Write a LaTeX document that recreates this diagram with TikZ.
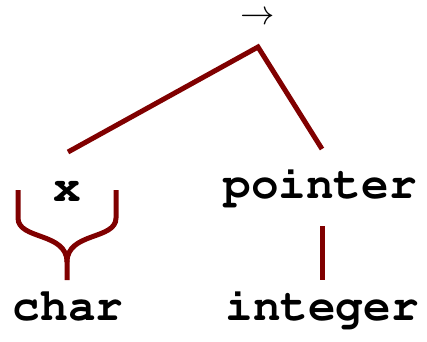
\documentclass[tikz,border=0pt]{standalone}
\usepackage[T1]{fontenc}
\begin{document}
\begin{tikzpicture}[x=1pt,y=-1pt,
  lbl/.style={font=\fontfamily{pcr}\bfseries\fontsize{46}{46}\selectfont, anchor=base, inner sep=0pt},
  edge/.style={draw={rgb,255:red,128;green,0;blue,0}, line width=5pt},
]
\useasboundingbox (0,0) rectangle (427,341);
\node[anchor=base, inner sep=0pt, font=\fontsize{24.88}{25}\selectfont] (arr) at (258,24) {\scalebox{1.38}{$\rightarrow$}};
\node[lbl] (x) at (67,201) {x};
\node[lbl] (ptr) at (320,198) {pointer};
\node[lbl] (chr) at (68,320) {char};
\node[lbl] (int) at (322,320) {integer};
\coordinate (top) at (258,47);
\coordinate (l) at (68,152);
\coordinate (r) at (322,149);
\coordinate (vt) at (322,226);
\coordinate (vb) at (322,280);
\coordinate (bl) at (18,190);
\coordinate (br) at (116,190);
\coordinate (bm) at (67,280);
\draw[edge] (l) -- (top) -- (r);
\draw[edge] (vt) -- (vb);
\draw[edge] (bl) -- ++(0,28) .. controls +(0,22) and (67,232) .. (67,262) -- (bm);
\draw[edge] (br) -- ++(0,28) .. controls +(0,22) and (67,232) .. (67,262);
\end{tikzpicture}
\end{document}
